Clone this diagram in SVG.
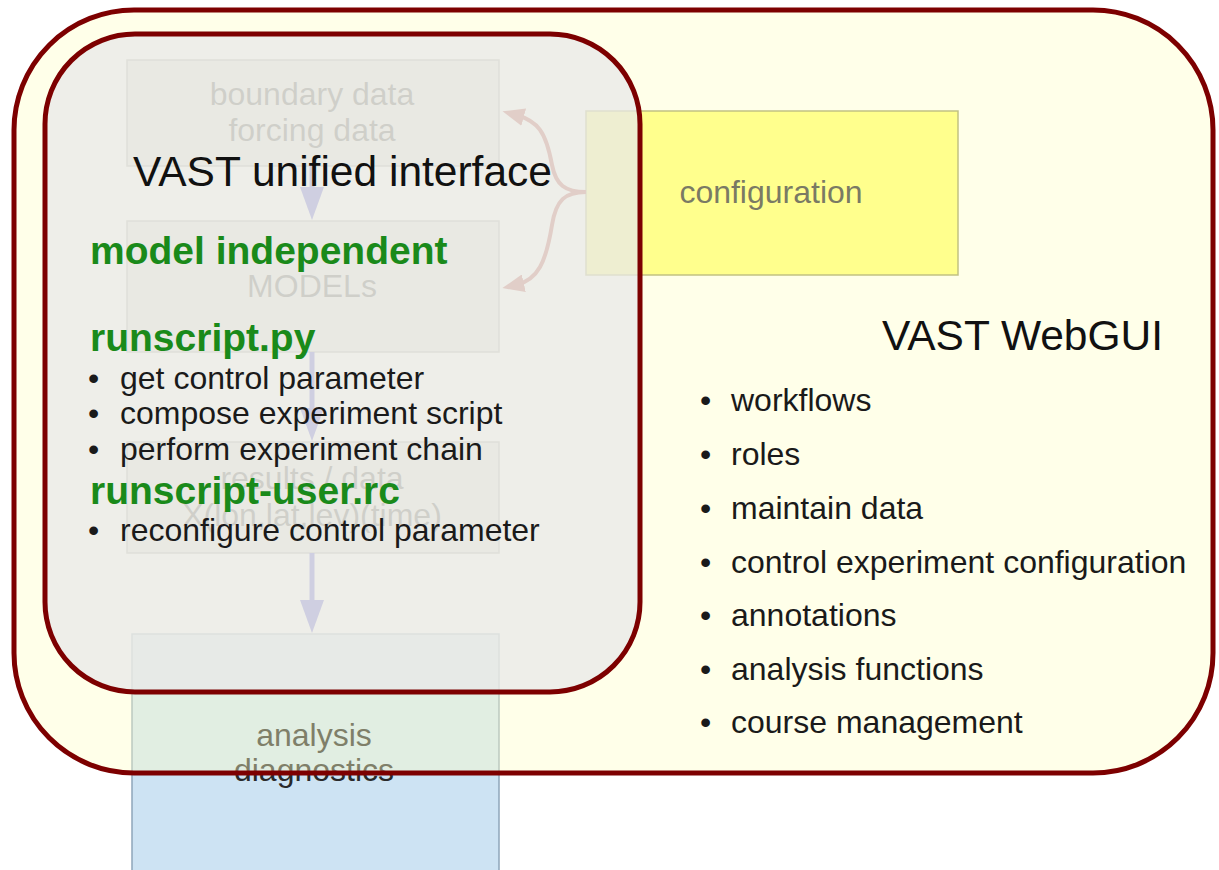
<svg xmlns="http://www.w3.org/2000/svg" width="1219" height="870" viewBox="0 0 1219 870">
<defs>
<style>
text{font-family:"Liberation Sans",Arial,Helvetica,sans-serif}
.box{fill:#dcdcdc;stroke:#9a9a9a;stroke-width:1.5}
.ul{font-size:32px;fill:#333;text-anchor:middle}
.flow{stroke:#3333cc;stroke-width:5;fill:none}
.cfg{stroke:#aa2a2a;stroke-width:4;fill:none}
.title{font-size:42.5px;fill:#111}
.green{font-size:39px;font-weight:bold;fill:#1a8a1a}
.item{font-size:32px;fill:#1a1a1a}
</style>
<marker id="ah" viewBox="0 0 33 24" markerUnits="userSpaceOnUse" markerWidth="33" markerHeight="24" refX="13" refY="12" orient="auto">
<path d="M0,0 L33,12 L0,24 z" fill="#3333cc"/>
</marker>
<marker id="ahc" viewBox="0 0 22 18" markerUnits="userSpaceOnUse" markerWidth="22" markerHeight="18" refX="8" refY="9" orient="auto">
<path d="M0,0 L22,9 L0,18 z" fill="#aa2a2a"/>
</marker>
</defs>
<rect width="1219" height="870" fill="#ffffff"/>
<g id="boundary">
<rect class="box" x="127" y="60" width="372" height="106"/>
<text class="ul" x="312" y="105">boundary data</text>
<text class="ul" x="312" y="141">forcing data</text>
</g>
<g id="models">
<rect class="box" x="127" y="221" width="372" height="131"/>
<text class="ul" x="312" y="297">MODELs</text>
</g>
<g id="results">
<rect class="box" x="127" y="442" width="372" height="111"/>
<text class="ul" x="312" y="489">results / data</text>
<text class="ul" x="312" y="526">X(lon,lat,lev)(time)</text>
</g>
<g id="analysis">
<rect x="132" y="634" width="367" height="250" fill="#cde3f3" stroke="#8ea6ba" stroke-width="1.5"/>
<text class="ul" x="314" y="746" style="fill:#2a2a2a">analysis</text>
<text class="ul" x="314" y="781" style="fill:#2a2a2a">diagnostics</text>
</g>
<g id="configuration">
<rect x="586" y="111" width="372" height="164" fill="#ffff66" stroke="#999955" stroke-width="1.5"/>
<text class="ul" x="771" y="203" style="fill:#222">configuration</text>
</g>
<g id="connectors">
<line class="flow" x1="312" y1="166" x2="312" y2="200" marker-end="url(#ah)"/>
<line class="flow" x1="312" y1="352" x2="312" y2="421" marker-end="url(#ah)"/>
<line class="flow" x1="312" y1="553" x2="312" y2="613" marker-end="url(#ah)"/>
<path class="cfg" d="M586,192 C565,192 556,185 552,165 C546,132 538,121 516,115" marker-end="url(#ahc)"/>
<path class="cfg" d="M586,192 C565,192 556,200 552,225 C546,262 538,280 516,285" marker-end="url(#ahc)"/>
</g>
<g id="webgui">
<rect x="14" y="10" width="1199" height="763" rx="120" ry="120" fill="#ffffc8" fill-opacity="0.4" stroke="#7d0000" stroke-width="5"/>
<text class="title" x="882" y="350">VAST WebGUI</text>
<text class="item"><tspan x="700" y="411">•</tspan><tspan x="731">workflows</tspan></text>
<text class="item"><tspan x="700" y="465">•</tspan><tspan x="731">roles</tspan></text>
<text class="item"><tspan x="700" y="519">•</tspan><tspan x="731">maintain data</tspan></text>
<text class="item"><tspan x="700" y="573">•</tspan><tspan x="731">control experiment configuration</tspan></text>
<text class="item"><tspan x="700" y="626">•</tspan><tspan x="731">annotations</tspan></text>
<text class="item"><tspan x="700" y="680">•</tspan><tspan x="731">analysis functions</tspan></text>
<text class="item"><tspan x="700" y="733">•</tspan><tspan x="731">course management</tspan></text>
</g>
<g id="unified-interface">
<rect x="45" y="34" width="595" height="658" rx="90" ry="90" fill="#e8e8e8" fill-opacity="0.75" stroke="#7d0000" stroke-width="5"/>
<text class="title" x="133" y="186">VAST unified interface</text>
<text class="green" x="90" y="264">model independent</text>
<text class="green" x="90" y="351">runscript.py</text>
<text class="item"><tspan x="88" y="389">•</tspan><tspan x="120">get control parameter</tspan></text>
<text class="item"><tspan x="88" y="424">•</tspan><tspan x="120">compose experiment script</tspan></text>
<text class="item"><tspan x="88" y="460">•</tspan><tspan x="120">perform experiment chain</tspan></text>
<text class="green" x="90" y="504">runscript-user.rc</text>
<text class="item"><tspan x="88" y="541">•</tspan><tspan x="120">reconfigure control parameter</tspan></text>
</g>
</svg>
